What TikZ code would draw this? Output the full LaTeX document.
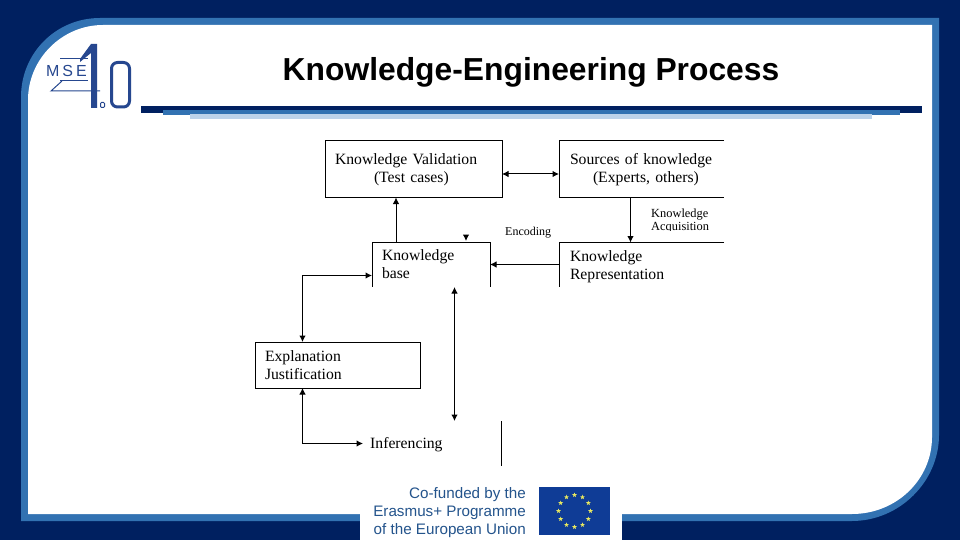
\documentclass[tikz,border=0pt]{standalone}
\usepackage{fontspec}
\setmainfont{Liberation Serif}
\newfontfamily\headfont{Liberation Sans}
\usepackage{xcolor}
\usetikzlibrary{shapes, arrows.meta, positioning}
\definecolor{navy}{HTML}{002060}
\definecolor{midblue}{HTML}{3272B2}
\definecolor{paleblue}{HTML}{BDD3EA}
\definecolor{logoblue}{HTML}{26478F}
\definecolor{eublue}{HTML}{0F3C96}
\definecolor{eutext}{HTML}{24548C}
\definecolor{eustar}{HTML}{E8E860}
\newcommand{\firstline}[1]{\rule{0pt}{#1}}
\tikzstyle{block} = [rectangle, draw, line width=1pt, outer sep=0pt, inner xsep=10pt, inner ysep=0pt, align=left,
    font=\fontsize{15.7}{17.8}\selectfont]
\tikzstyle{openblock} = [block, draw=none]
\tikzstyle{label} = [inner sep=0pt, align=left, font=\fontsize{12}{13}\selectfont]
\tikzstyle{line} = [draw, line width=1pt, -{Latex[length=6.5pt, width=6.5pt]}]
\tikzstyle{both} = [draw, line width=1pt, {Latex[length=6.5pt, width=6.5pt]}-{Latex[length=6.5pt, width=6.5pt]}]
\tikzstyle{euflagstar} = [star, star points=5, star point ratio=2.4, fill=eustar, inner sep=0pt, minimum size=5pt]

\begin{document}
\begin{tikzpicture}[x=1pt, y=-1pt]
        \useasboundingbox (0,0) rectangle (960,540);
        % Frame
        \fill [navy] (0,0) rectangle (960,540);
        \fill [midblue] (21,521) -- (21,97) .. controls (21,53) and (56,18) .. (100,18)
            -- (939,18) -- (939,435) .. controls (939,482) and (899,521) .. (852,521) -- cycle;
        \fill [white] (28,514) -- (28,100) .. controls (28,59) and (62,25) .. (103,25)
            -- (932,25) -- (932,437) .. controls (932,480) and (896,514) .. (852,514) -- cycle;
        \fill [navy] (141,106) rectangle (922,113);
        \fill [midblue] (163,110) rectangle (900,115);
        \fill [paleblue] (190,114) rectangle (872,119);
        \node [font=\headfont\bfseries\fontsize{31.8}{36}\selectfont, inner sep=0pt, anchor=base] (title) at (531,81) {Knowledge-Engineering Process};

        % Logo
        \fill [logoblue] (91,44) -- (97,44) -- (97,108) -- (91,108) -- (91,53) -- (80,62) -- (80,59) -- cycle;
        \draw [logoblue, line width=1pt] (62,81) -- (51,91) -- (100,91);
        \draw [logoblue, line width=1pt] (60,59) -- (88,59) (60,81) -- (88,81);
        \node [logoblue, font=\headfont\fontsize{16}{16}\selectfont, inner sep=0pt] (mse) at (66.5,71) {M\hspace{3pt}S\hspace{3pt}E};
        \draw [logoblue, line width=3pt, rounded corners=6pt] (111.5,62.5) rectangle (129.5,107);
        \draw [logoblue, line width=1pt, rounded corners=1pt] (100.5,102.5) rectangle (104.5,107.5);

        % Nodes
        \node [block, minimum width=177pt, minimum height=57pt, text width=157pt] (validation) at (413.5,169)
            {\firstline{11.7pt}Knowledge Validation\\\hspace*{39pt}(Test cases)};
        \node [openblock, inner xsep=11pt, minimum width=165pt, minimum height=57pt, text width=143pt, right=57pt of validation] (sources)
            {\firstline{11.7pt}Sources of knowledge\\\hspace*{23pt}(Experts, others)};
        \node [openblock, minimum width=118pt, minimum height=44pt, text width=98pt] (base) at (431,264.5)
            {Knowledge\\base};
        \node [openblock, inner xsep=11pt, minimum width=165pt, minimum height=44pt, text width=143pt, right=69pt of base] (representation)
            {\firstline{14.7pt}Knowledge\\Representation};
        \node [block, minimum width=165pt, minimum height=46pt, text width=145pt] (explanation) at (337.5,365)
            {\firstline{11.7pt}Explanation\\Justification};
        \node [inner sep=0pt, anchor=base west, font=\fontsize{15.7}{17.8}\selectfont] (inferencing) at (370,448) {Inferencing};
        \node [label, anchor=base west] (encoding) at (505,235) {Encoding};
        \begin{scope}
            \clip (640,200) rectangle (724,230.5);
            \node [label, font=\fontsize{12.4}{13}\selectfont, anchor=north west] (acquisition) at (651,208.5) {Knowledge\\Acquisition};
        \end{scope}

        % Open box sides
        \draw [line width=1pt] (sources.north east) -- (sources.north west) -- (sources.south west) -- (sources.south east);
        \draw [line width=1pt] (representation.north east) -- (representation.north west) -- (representation.south west);
        \draw [line width=1pt] (base.south west) -- (base.north west) -- (base.north east) -- (base.south east);

        % Free ends
        \coordinate (tiptop) at (466,234.5);
        \coordinate (tipend) at (466,241);
        \coordinate (basearrow) at (454.5,287);
        \coordinate (lowarrow) at (454.5,421);
        \coordinate (stubtop) at (501.5,421);
        \coordinate (stubend) at (501.5,466);
        \coordinate (leftbend) at (302.5,275.5);
        \coordinate (lowbend) at (302.5,443.5);

        % Lines
        \path [both] ([yshift=-5pt]validation.east) -- ([yshift=-5pt]sources.west);
        \path [line] ([xshift=71.5pt]sources.south west) -- ([xshift=71.5pt]representation.north west);
        \path [line] ([xshift=24pt]base.north west) -- ([xshift=71pt]validation.south west);
        \path [line] (representation.west) -- (base.east);
        \path [both] ([yshift=-11pt]base.west) -- (leftbend) -- ([xshift=47.5pt]explanation.north west);
        \path [both] ([xshift=47.5pt]explanation.south west) -- (lowbend) -- (363,443.5);
        \path [line] (tiptop) -- (tipend);
        \path [both] (basearrow) -- (lowarrow);
        \draw [line width=1pt] (stubtop) -- (stubend);

        % Co-funded block
        \fill [white] (360,514) rectangle (622,540);
        \node [eutext, font=\headfont\fontsize{15.2}{18.3}\selectfont, inner sep=0pt, align=right, anchor=east] (funded) at (526,512.5)
            {Co-funded by the\\Erasmus+ Programme\\of the European Union};
        \fill [eublue] (539,487) rectangle (610,535);
        \foreach \i in {0,...,11}
            \node [euflagstar, shift={(574.5,511)}] at (\i*30:16) {};
    \end{tikzpicture}
\end{document}
